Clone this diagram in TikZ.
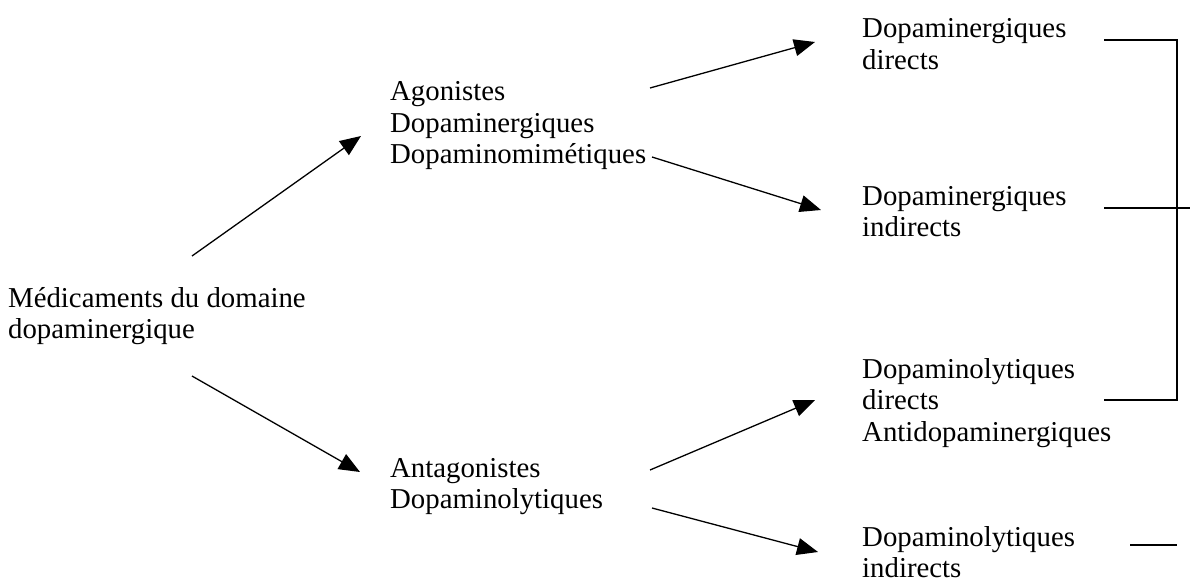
\documentclass[tikz,border=0pt]{standalone}
\usepackage{fontspec}
\setmainfont{Liberation Serif}
\usetikzlibrary{arrows.meta}
\newcommand{\mlines}[1]{\vtop{\halign{##\hfil\cr #1\crcr}}}
\begin{document}
\begin{tikzpicture}[x=1pt,y=1pt,
  lbl/.style={anchor=base west,inner sep=0pt,font=\fontsize{28.8}{31.5}\selectfont},
  arr/.style={line width=1.3pt,-{Triangle[length=21pt,width=17pt]}},
  brk/.style={line width=1.3pt}]
\useasboundingbox (0,0) rectangle (1190,-580);
\fill[white] (0,0) rectangle (1190,-580);
% text nodes (base = baseline of first line)
\node[lbl] (med) at (8,-307) {\mlines{Médicaments du domaine\cr dopaminergique}};
\node[lbl] (ago) at (390,-101) {\mlines{Agonistes\cr Dopaminergiques\cr Dopaminomimétiques}};
\node[lbl] (ant) at (390,-477) {\mlines{Antagonistes\cr Dopaminolytiques}};
\node[lbl] (dd) at (862,-38) {\mlines{Dopaminergiques\cr directs}};
\node[lbl] (di) at (862,-205) {\mlines{Dopaminergiques\cr indirects}};
\node[lbl] (ld) at (862,-378) {\mlines{Dopaminolytiques\cr directs\cr Antidopaminergiques}};
\node[lbl] (li) at (862,-546) {\mlines{Dopaminolytiques\cr indirects}};
% arrow end points
\coordinate (a1s) at (192,-256); \coordinate (a1e) at (361,-136);
\coordinate (a2s) at (192,-376); \coordinate (a2e) at (360,-472);
\coordinate (a3s) at (650,-88);  \coordinate (a3e) at (815,-42);
\coordinate (a4s) at (652,-157); \coordinate (a4e) at (821,-210);
\coordinate (a5s) at (650,-470); \coordinate (a5e) at (815,-400);
\coordinate (a6s) at (652,-508); \coordinate (a6e) at (818,-552);
\draw[arr] (a1s) -- (a1e);
\draw[arr] (a2s) -- (a2e);
\draw[arr] (a3s) -- (a3e);
\draw[arr] (a4s) -- (a4e);
\draw[arr] (a5s) -- (a5e);
\draw[arr] (a6s) -- (a6e);
% bracket
\coordinate (b1) at (1104,-40); \coordinate (b2) at (1177,-40);
\coordinate (b3) at (1177,-400); \coordinate (b4) at (1104,-400);
\coordinate (m1) at (1104,-208); \coordinate (m2) at (1190,-208);
\coordinate (s1) at (1130,-545); \coordinate (s2) at (1177,-545);
\draw[brk] (b1) -- (b2) -- (b3) -- (b4);
\draw[brk] (m1) -- (m2);
\draw[brk] (s1) -- (s2);
\end{tikzpicture}
\end{document}
